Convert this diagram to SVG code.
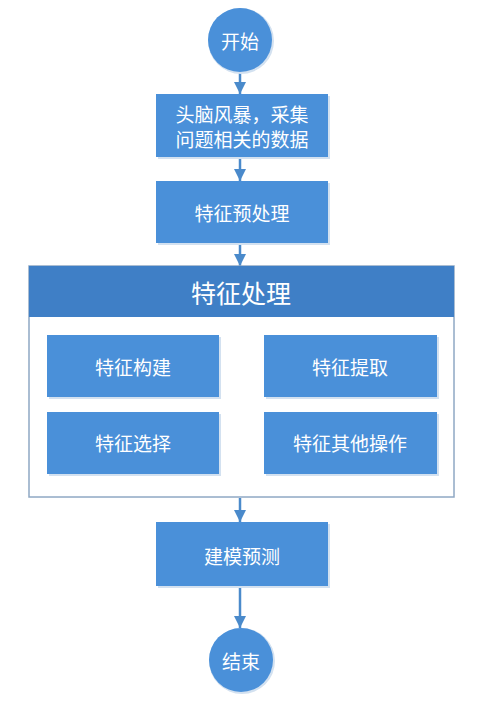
<svg xmlns="http://www.w3.org/2000/svg" width="498" height="712" viewBox="0 0 498 712">
<style>
.box{fill:#4a90d9;}
.shadow{fill:#d3e1f0;}
.t{fill:#ffffff;font-family:"Noto Sans CJK SC","Noto Sans",sans-serif;font-size:19px;text-anchor:middle;dominant-baseline:central;}
.title{font-size:25px;}
.conn{stroke:#4a8acb;stroke-width:2.5;fill:none;}
</style>
<defs>
<marker id="ah" viewBox="0 0 10 10" refX="10" refY="5" markerWidth="5" markerHeight="5" orient="auto" markerUnits="strokeWidth">
<path d="M0,0 L10,5 L0,10 z" fill="#4a8acb"/>
</marker>
</defs>
<rect width="498" height="712" fill="#ffffff"/>
<g id="connectors">
<line class="conn" x1="240" y1="72" x2="240" y2="94" marker-end="url(#ah)"/>
<line class="conn" x1="240" y1="157" x2="240" y2="181" marker-end="url(#ah)"/>
<line class="conn" x1="240" y1="243" x2="240" y2="266" marker-end="url(#ah)"/>
<line class="conn" x1="240" y1="498" x2="240" y2="522" marker-end="url(#ah)"/>
<line class="conn" x1="240" y1="586" x2="240" y2="628" marker-end="url(#ah)"/>
</g>
<g id="start">
<circle cx="241" cy="41" r="33" fill="#d3e1f0"/>
<circle class="box" cx="240" cy="40" r="32"/>
<text class="t" x="240" y="40">开始</text>
</g>
<g id="collect">
<rect class="shadow" x="158" y="96" width="172" height="63"/>
<rect class="box" x="156" y="94" width="172" height="63"/>
<text class="t" x="242" y="113">头脑风暴，采集</text>
<text class="t" x="242" y="138">问题相关的数据</text>
</g>
<g id="preprocess">
<rect class="shadow" x="158" y="183" width="172" height="62"/>
<rect class="box" x="156" y="181" width="172" height="62"/>
<text class="t" x="242" y="212">特征预处理</text>
</g>
<g id="feature-processing">
<rect x="29" y="266" width="425" height="231" fill="#ffffff" stroke="#8fa8c4" stroke-width="1.5"/>
<rect x="29" y="266" width="425" height="51" fill="#3f7fc6"/>
<text class="t title" x="241" y="292">特征处理</text>
</g>
<g id="construct">
<rect class="shadow" x="49" y="337" width="172" height="62"/>
<rect class="box" x="47" y="335" width="172" height="62"/>
<text class="t" x="133" y="366">特征构建</text>
</g>
<g id="extract">
<rect class="shadow" x="266" y="337" width="173" height="62"/>
<rect class="box" x="264" y="335" width="173" height="62"/>
<text class="t" x="350" y="366">特征提取</text>
</g>
<g id="select">
<rect class="shadow" x="49" y="414" width="172" height="62"/>
<rect class="box" x="47" y="412" width="172" height="62"/>
<text class="t" x="133" y="442">特征选择</text>
</g>
<g id="other">
<rect class="shadow" x="266" y="414" width="173" height="62"/>
<rect class="box" x="264" y="412" width="173" height="62"/>
<text class="t" x="350" y="442">特征其他操作</text>
</g>
<g id="model">
<rect class="shadow" x="158" y="524" width="172" height="64"/>
<rect class="box" x="156" y="522" width="172" height="64"/>
<text class="t" x="242" y="555">建模预测</text>
</g>
<g id="end">
<circle cx="242" cy="661" r="33" fill="#d3e1f0"/>
<circle class="box" cx="241" cy="660" r="32"/>
<text class="t" x="241" y="660">结束</text>
</g>
</svg>
